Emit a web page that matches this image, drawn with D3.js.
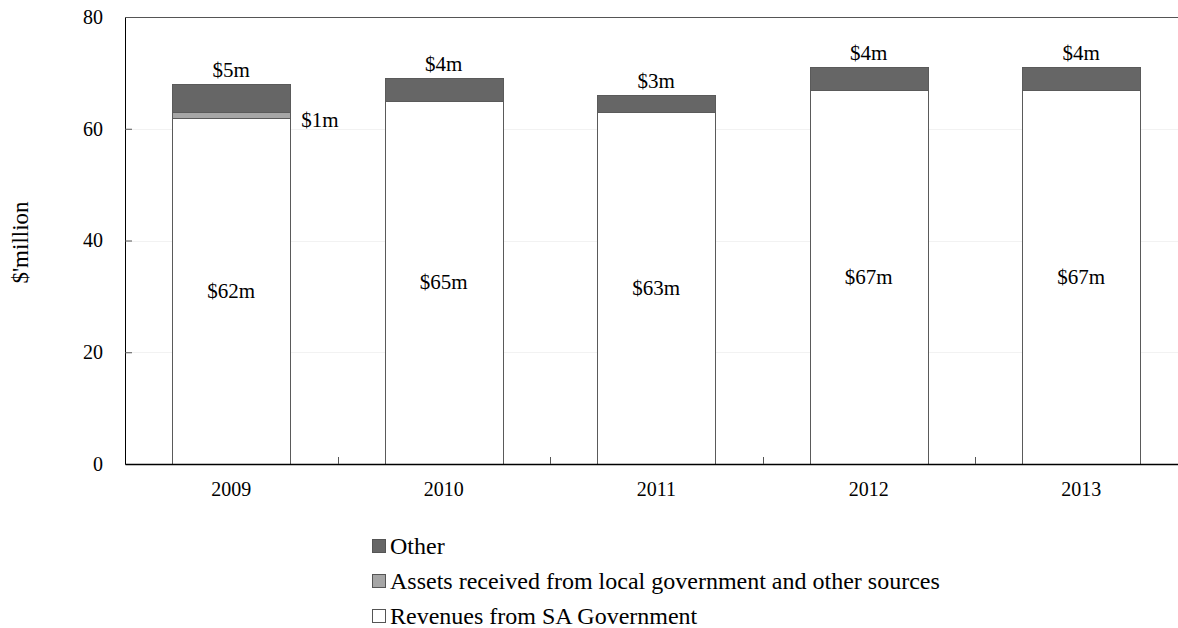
<!DOCTYPE html>
<html>
<head>
<meta charset="utf-8">
<script src="https://cdn.jsdelivr.net/npm/d3@7"></script>
<style>
  html, body { margin: 0; padding: 0; background: #fff; }
  svg text { font-family: "Liberation Serif", "Times New Roman", Times, serif; fill: #000; }
</style>
</head>
<body>
<svg id="chart" width="1178" height="628"></svg>
<script>
// Revenue by source, $ million
const years = ["2009", "2010", "2011", "2012", "2013"];
const revenuesSA = [62, 65, 63, 67, 67];
const assetsReceived = [1, 0, 0, 0, 0];
const other = [5, 4, 3, 4, 4];
const yTicks = [0, 20, 40, 60, 80];

const seriesNames = ["Revenues from SA Government", "Assets received from local government and other sources", "Other"];
const seriesColors = ["#ffffff", "#a6a6a6", "#666666"];
const legendOrder = [2, 1, 0];

const FONT = '"Liberation Serif", "Times New Roman", Times, serif';

const rows = years.map((y, i) => ({
  year: y, s0: revenuesSA[i], s1: assetsReceived[i], s2: other[i]
}));
const stacked = d3.stack().keys(["s0", "s1", "s2"])(rows);

const svg = d3.select("#chart").attr("font-family", FONT);
const margin = { left: 125, top: 17, right: 0, bottom: 164 };
const plotW = 1062.5;
const plotH = 628 - margin.top - margin.bottom;

const x = d3.scaleBand().domain(years).range([margin.left, margin.left + plotW]).paddingInner(0.445).paddingOuter(0.2225);
const y = d3.scaleLinear().domain([0, 80]).range([margin.top + plotH, margin.top]);

// faint horizontal gridlines
svg.append("g").selectAll("line").data(yTicks.filter(t => t > 0 && t < 80)).join("line")
  .attr("x1", margin.left).attr("x2", margin.left + plotW)
  .attr("y1", d => Math.round(y(d)) + 0.5).attr("y2", d => Math.round(y(d)) + 0.5)
  .attr("stroke", "#f2f2f2").attr("stroke-width", 1);

// top border
svg.append("line")
  .attr("x1", margin.left).attr("x2", margin.left + plotW)
  .attr("y1", margin.top + 0.5).attr("y2", margin.top + 0.5)
  .attr("stroke", "#555").attr("stroke-width", 1);

// bars
svg.append("g").selectAll("g").data(stacked).join("g")
  .attr("fill", (d, i) => seriesColors[i])
  .selectAll("rect").data(d => d.filter(p => p[1] - p[0] > 0)).join("rect")
  .attr("x", d => Math.round(x(d.data.year)) + 0.5)
  .attr("width", Math.round(x.bandwidth()))
  .attr("y", d => Math.round(y(d[1])) + 0.5)
  .attr("height", d => Math.round(y(d[0])) - Math.round(y(d[1])))
  .attr("stroke", "#5a5a5a").attr("stroke-width", 1);

// y axis
const yAxis = d3.axisLeft(y).tickValues(yTicks).tickSizeInner(-7).tickSizeOuter(0).tickPadding(22);
const gy = svg.append("g").attr("transform", `translate(${margin.left},0)`).call(yAxis)
  .attr("font-family", FONT);
gy.select(".domain").attr("stroke", "#000");
gy.selectAll(".tick line").attr("stroke", "#555");
gy.selectAll(".tick text").attr("font-size", 20);

// x axis
const xAxis = d3.axisBottom(x).tickSize(0).tickPadding(18);
const gx = svg.append("g").attr("transform", `translate(0,${margin.top + plotH})`).call(xAxis)
  .attr("font-family", FONT);
gx.select(".domain").attr("stroke", "#000").attr("stroke-width", 1.5);
gx.selectAll(".tick text").attr("font-size", 20);

// category separator ticks
const step = x.step();
const seps = years.slice(0, -1).map((d, i) => margin.left + step * (i + 1));
svg.append("g").selectAll("line").data(seps).join("line")
  .attr("x1", d => Math.round(d) + 0.5).attr("x2", d => Math.round(d) + 0.5)
  .attr("y1", margin.top + plotH).attr("y2", margin.top + plotH - 7)
  .attr("stroke", "#555");

// y axis title
svg.append("text")
  .attr("transform", `translate(28,${margin.top + plotH / 2 + 2}) rotate(-90)`)
  .attr("text-anchor", "middle").attr("font-size", 23)
  .text("$'million");

// value labels: revenues in bar middle
svg.append("g").selectAll("text").data(rows).join("text")
  .attr("x", d => x(d.year) + x.bandwidth() / 2)
  .attr("y", d => y(d.s0 / 2) + 7)
  .attr("text-anchor", "middle").attr("font-size", 21)
  .text(d => `$${d.s0}m`);

// value labels: other above bar
svg.append("g").selectAll("text").data(rows).join("text")
  .attr("x", d => x(d.year) + x.bandwidth() / 2)
  .attr("y", d => y(d.s0 + d.s1 + d.s2) - 7)
  .attr("text-anchor", "middle").attr("font-size", 21)
  .text(d => `$${d.s2}m`);

// value labels: assets beside bar
svg.append("g").selectAll("text").data(rows.filter(d => d.s1 > 0)).join("text")
  .attr("x", d => x(d.year) + x.bandwidth() + 11)
  .attr("y", d => y(d.s0 + d.s1 / 2) + 12)
  .attr("text-anchor", "start").attr("font-size", 21)
  .text(d => `$${d.s1}m`);

// legend
const lg = svg.append("g").selectAll("g").data(legendOrder).join("g")
  .attr("transform", (d, i) => `translate(372,${539 + i * 35})`);
lg.append("rect").attr("x", 0.5).attr("y", 0.5).attr("width", 13).attr("height", 13)
  .attr("fill", d => seriesColors[d]).attr("stroke", "#555");
lg.append("text").attr("x", 18).attr("y", 14.5).attr("font-size", 24)
  .text(d => seriesNames[d]);
</script>
</body>
</html>
